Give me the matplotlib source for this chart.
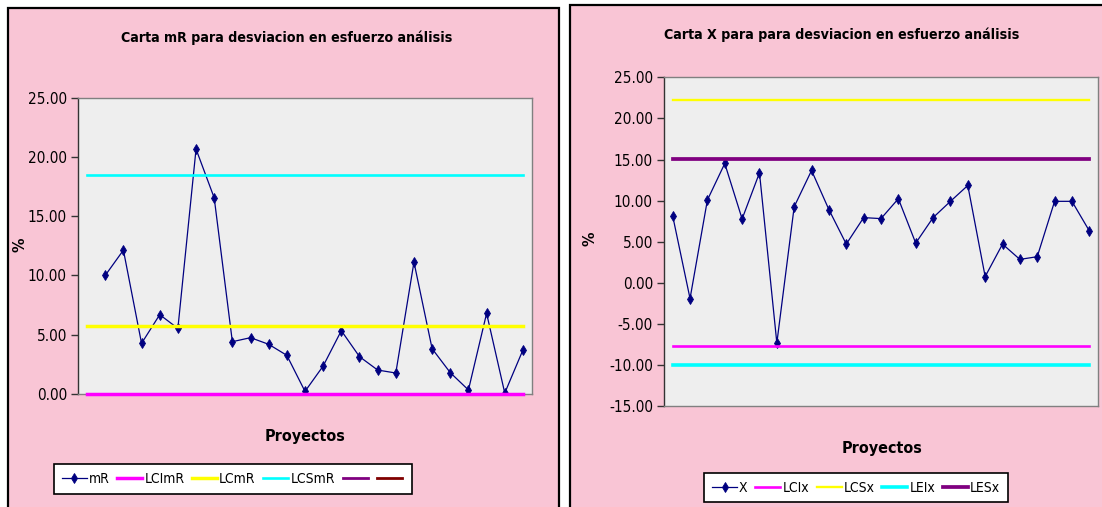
import numpy as np
import matplotlib
matplotlib.use("Agg")
import matplotlib.pyplot as plt
from matplotlib import font_manager
from matplotlib.patches import Rectangle
from matplotlib.ticker import MultipleLocator, FormatStrFormatter

# pick a narrow sans face if one is available
_names = {f.name: f for f in font_manager.fontManager.ttflist}
_narrow = [f for f in font_manager.fontManager.ttflist
           if 'Narrow' in f.name or 'Condensed' in f.name or
           (isinstance(f.stretch, str) and 'condensed' in f.stretch)]
FAMILY = ['Liberation Sans', 'DejaVu Sans']
STRETCH = 'normal'
if 'Liberation Sans Narrow' in _names:
    FAMILY = ['Liberation Sans Narrow', 'Liberation Sans', 'DejaVu Sans']
elif _narrow:
    FAMILY = [_narrow[0].name, 'Liberation Sans', 'DejaVu Sans']
    STRETCH = 'condensed'
plt.rcParams['font.family'] = FAMILY
plt.rcParams['font.stretch'] = STRETCH

# ---- data -------------------------------------------------------------
proyectos = np.arange(1, 26)

# moving range (starts at the second project)
mR = [10.00, 12.13, 4.27, 6.69, 5.53, 20.65, 16.54, 4.41, 4.75, 4.19, 3.26, 0.22,
      2.36, 5.34, 3.15, 2.02, 1.77, 11.12, 3.82, 1.80, 0.34, 6.80, 0.08, 3.71]
LCImR = 0.00
LCmR = 5.73
LCSmR = 18.43

# individual values
X = [8.15, -1.90, 10.08, 14.52, 7.78, 13.39, -7.30, 9.27, 13.67, 8.91, 4.72, 7.94,
     7.82, 10.24, 4.84, 7.94, 9.92, 11.85, 0.77, 4.72, 2.86, 3.19, 9.92, 9.92, 6.33]
LCIx = -7.66
LCSx = 22.30
LEIx = -9.96
LESx = 15.08

titulo_mR = "Carta mR para desviacion en esfuerzo análisis"
titulo_X = "Carta X para para desviacion en esfuerzo análisis"
etiqueta_x = "Proyectos"
etiqueta_y = "%"

# ---- styling ----------------------------------------------------------
W, H = 1102, 507
PINK = '#F9C5D5'
PLOT_BG = '#EEEEEE'
NAVY = '#000080'
MAGENTA = '#FF00FF'
YELLOW = '#FFFF00'
CYAN = '#00FFFF'
PURPLE = '#800080'
DARKRED = '#800000'

TITLE_SIZE = 10.2
TICK_SIZE = 11
AXLABEL_SIZE = 11.5
LEGEND_SIZE = 10

fig = plt.figure(figsize=(W / 100, H / 100), dpi=100)
fig.patch.set_facecolor('white')


def fx(x):
    return x / W


def fy(y):
    return 1 - y / H


def panel(x0, y0, x1, y1):
    fig.patches.append(Rectangle((fx(x0), fy(y1)), fx(x1) - fx(x0), fy(y0) - fy(y1),
                                 transform=fig.transFigure, facecolor=PINK,
                                 edgecolor='black', linewidth=1.6, zorder=-10))


def make_axes(x0, y0, x1, y1):
    ax = fig.add_axes([fx(x0), fy(y1), fx(x1) - fx(x0), fy(y0) - fy(y1)])
    ax.set_zorder(2)
    ax.set_facecolor(PLOT_BG)
    for s in ('top', 'right', 'bottom'):
        ax.spines[s].set_color('#808080')
        ax.spines[s].set_linewidth(1.0)
    ax.spines['left'].set_color('#333333')
    ax.spines['left'].set_linewidth(1.0)
    ax.set_xlim(0.5, 25.5)
    ax.set_xticks([])
    ax.yaxis.set_major_locator(MultipleLocator(5))
    ax.yaxis.set_major_formatter(FormatStrFormatter('%.2f'))
    ax.tick_params(axis='y', direction='out', length=5, width=1, color='#333333',
                   labelsize=TICK_SIZE, pad=3)
    return ax


def style_legend(leg):
    fr = leg.get_frame()
    fr.set_edgecolor('black')
    fr.set_linewidth(1.2)
    fr.set_facecolor('white')
    fr.set_alpha(1.0)
    leg.set_zorder(5)


marker_style = dict(color=NAVY, lw=0.9, marker='d', ms=5.5, mew=0.6,
                    mec=NAVY, mfc=NAVY, zorder=3)
legend_style = dict(loc='center', fontsize=LEGEND_SIZE, frameon=True,
                    fancybox=False, handlelength=1.8, handletextpad=0.15,
                    columnspacing=0.55, borderpad=0.55, markerscale=0.85,
                    framealpha=1.0)

# ---- left panel: mR chart --------------------------------------------
panel(7.5, 8, 559, 520)
ax1 = make_axes(78, 97.5, 532, 394)
ax1.set_ylim(0, 25)
h_mR, = ax1.plot(proyectos[1:], mR, label='mR', **marker_style)
h1, = ax1.plot(proyectos, [LCImR] * len(proyectos), color=MAGENTA, lw=2.5,
               zorder=4, clip_on=False, label='LCImR')
h2, = ax1.plot(proyectos, [LCmR] * len(proyectos), color=YELLOW, lw=2.5,
               zorder=4, label='LCmR')
h3, = ax1.plot(proyectos, [LCSmR] * len(proyectos), color=CYAN, lw=1.9,
               zorder=4, label='LCSmR')
h4, = ax1.plot([], [], color=PURPLE, lw=2.0, label=' ')
h5, = ax1.plot([], [], color=DARKRED, lw=2.0, label=' ')

fig.text(fx(287), fy(38), titulo_mR, ha='center', va='center',
         fontsize=TITLE_SIZE, fontweight='bold')
fig.text(fx(305), fy(437), etiqueta_x, ha='center', va='center',
         fontsize=AXLABEL_SIZE, fontweight='bold')
fig.text(fx(20), fy(245), etiqueta_y, ha='center', va='center',
         fontsize=AXLABEL_SIZE, fontweight='bold', rotation=90)

leg1 = fig.legend([h_mR, h1, h2, h3, h4, h5],
                  ['mR', 'LCImR', 'LCmR', 'LCSmR', '', ''],
                  bbox_to_anchor=(fx(233), fy(479)), ncol=6, **legend_style)
style_legend(leg1)

# ---- right panel: X chart ---------------------------------------------
panel(569.5, 4.5, 1115, 520)
ax2 = make_axes(664, 77.3, 1098, 406.3)
ax2.set_ylim(-15, 25)
g_X, = ax2.plot(proyectos, X, label='X', **marker_style)
g1, = ax2.plot(proyectos, [LCIx] * len(proyectos), color=MAGENTA, lw=1.9,
               zorder=4, label='LCIx')
g2, = ax2.plot(proyectos, [LCSx] * len(proyectos), color=YELLOW, lw=1.7,
               zorder=4, label='LCSx')
g3, = ax2.plot(proyectos, [LEIx] * len(proyectos), color=CYAN, lw=2.6,
               zorder=4, label='LEIx')
g4, = ax2.plot(proyectos, [LESx] * len(proyectos), color=PURPLE, lw=2.7,
               zorder=4, label='LESx')

fig.text(fx(842), fy(35), titulo_X, ha='center', va='center',
         fontsize=TITLE_SIZE, fontweight='bold')
fig.text(fx(882), fy(448), etiqueta_x, ha='center', va='center',
         fontsize=AXLABEL_SIZE, fontweight='bold')
fig.text(fx(590), fy(239), etiqueta_y, ha='center', va='center',
         fontsize=AXLABEL_SIZE, fontweight='bold', rotation=90)

leg2 = fig.legend([g_X, g1, g2, g3, g4],
                  ['X', 'LCIx', 'LCSx', 'LEIx', 'LESx'],
                  bbox_to_anchor=(fx(856), fy(487.5)), ncol=5, **legend_style)
style_legend(leg2)

fig.savefig('out.png', dpi=100, facecolor=fig.get_facecolor())
